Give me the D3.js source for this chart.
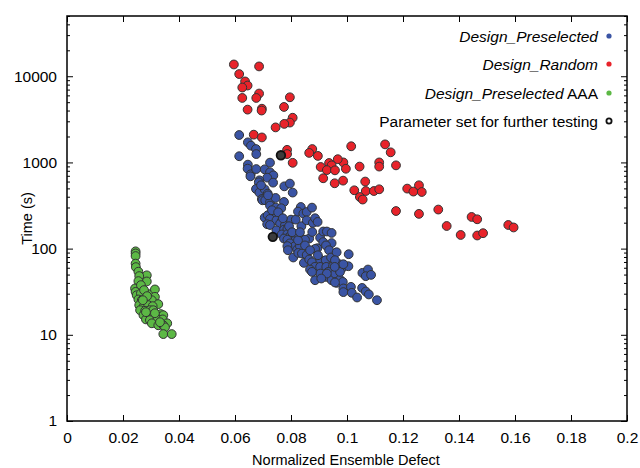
<!DOCTYPE html>
<html>
<head>
<meta charset="utf-8">
<script src="https://cdn.jsdelivr.net/npm/d3@7"></script>
<style>
  body { margin: 0; background: #fff; }
  svg { font-family: "Liberation Sans", Arial, sans-serif; }
</style>
</head>
<body>
<svg width="640" height="468"></svg>
<script>
// Normalized ensemble defect vs. design time

const xTicks = [0, 0.02, 0.04, 0.06, 0.08, 0.1, 0.12, 0.14, 0.16, 0.18, 0.2];
const yTicks = [1, 10, 100, 1000, 10000];

const preselected = [
  [0.0615,2080],[0.0646,1710],[0.0657,1565],[0.0675,1430],[0.0676,1250],[0.0615,1180],
  [0.0646,943],[0.0645,847],[0.0656,728],[0.0655,690],[0.0676,838],[0.0706,832],
  [0.0725,994],[0.0725,768],[0.0737,708],[0.0715,666],[0.0687,620],[0.0685,588],
  [0.0736,583],[0.0776,528],[0.0796,568],[0.0806,447],[0.0675,492],[0.0687,447],
  [0.0706,488],[0.0717,435],[0.0696,377],[0.0698,364],[0.0708,364],[0.0725,345],
  [0.0745,387],[0.0775,348],[0.0725,316],[0.0746,299],[0.0765,294],[0.0706,229],
  [0.0717,244],[0.0739,244],[0.0761,233],[0.0725,221],[0.0748,213],[0.0767,209],
  [0.0715,192],[0.0725,188],[0.0761,195],[0.0778,185],[0.0748,163],[0.0775,166],
  [0.0787,169],[0.0767,146],[0.0787,147],[0.0800,217],[0.0817,217],[0.0835,304],
  [0.0825,269],[0.0844,255],[0.0856,266],[0.0875,299],[0.0837,182],[0.0856,213],
  [0.0878,199],[0.0886,225],[0.0895,204],[0.0796,139],[0.0814,139],[0.0808,122],
  [0.0775,131],[0.0787,127],[0.0796,115],[0.0814,107],[0.0787,107],[0.0822,97.6],
  [0.0832,107],[0.0845,127],[0.0865,131],[0.0876,156],[0.0808,78.9],[0.0826,89.1],
  [0.0839,87.7],[0.0856,84.5],[0.0846,68.3],[0.0865,74.8],[0.0875,69.5],[0.0885,61.4],
  [0.0868,57.2],[0.0886,43.0],[0.0894,101],[0.0904,134],[0.0915,158],[0.0928,158],
  [0.0945,152],[0.0915,119],[0.0945,116],[0.0925,109],[0.0936,95.8],[0.0904,74.8],
  [0.0924,73.4],[0.0943,78.9],[0.0904,61.4],[0.0926,61.4],[0.0950,62.5],[0.0933,53.7],
  [0.0905,51.4],[0.0925,47.0],[0.0945,43.0],[0.0957,51.4],[0.0963,40.1],[0.0975,43.8],
  [0.0985,41.1],[0.0987,34.5],[0.0987,31.3],[0.0973,65.9],[0.0985,60.4],[0.0975,53.7],
  [0.1005,62.5],[0.1006,86.1],[0.0963,90.8],[0.0957,73.4],[0.1014,36.0],[0.1017,30.7],
  [0.1036,27.1],[0.1055,52.3],[0.1075,57.2],[0.1067,47.9],[0.1086,49.6],[0.1054,35.0],
  [0.1067,31.8],[0.1078,29.4],[0.1107,25.2],[0.0850,127],[0.0886,99.2],[0.0987,65.9],
  [0.0956,61.4],[0.0875,53.7],[0.0928,51.4],[0.0908,45.0],[0.0957,40.5],[0.0693,543],
  [0.0718,415],[0.0732,279],[0.0754,264],[0.0771,225],[0.0793,182],[0.0804,155],
  [0.0825,125],[0.0789,95.8],[0.0850,109],[0.0868,95.8],[0.0896,83.8],[0.0832,155]
];

const random = [
  [0.0596,13700],[0.0686,13000],[0.0615,10600],[0.0636,8700],[0.0645,7800],[0.0626,7400],
  [0.0686,6300],[0.0676,5600],[0.0626,5600],[0.0796,5700],[0.0775,4400],[0.0645,4100],
  [0.0696,4200],[0.0695,4000],[0.0806,3300],[0.0796,2900],[0.0776,2800],[0.0745,2550],
  [0.0667,2100],[0.0696,1950],[0.0786,1400],[0.0786,1250],[0.0876,1430],[0.0865,1290],
  [0.0896,1190],[0.0806,990],[0.1136,1620],[0.1156,1310],[0.1015,1540],[0.0987,1000],
  [0.0967,1090],[0.0936,985],[0.0945,925],[0.0906,885],[0.0928,815],[0.0957,810],
  [0.0996,845],[0.1045,895],[0.1115,1000],[0.1115,895],[0.1175,925],[0.0915,655],
  [0.0986,615],[0.0956,573],[0.1065,600],[0.1026,475],[0.1067,466],[0.1096,466],
  [0.1115,488],[0.1046,397],[0.1056,371],[0.1215,497],[0.1237,459],[0.1257,543],
  [0.1267,454],[0.1175,273],[0.1257,253],[0.1326,284],[0.1445,233],[0.1465,219],
  [0.1356,183],[0.1406,144],[0.1465,142],[0.1486,151],[0.1576,188],[0.1595,176]
];

const preselectedAAA = [
  [0.0245,93],[0.0245,88],[0.0245,82],[0.0245,67],[0.0246,61],[0.0255,54],
  [0.0285,49],[0.0258,48],[0.0285,41.6],[0.0255,42],[0.0243,34.5],[0.0245,31.5],
  [0.0249,28.8],[0.0264,30.2],[0.0255,25.7],[0.0267,25.2],[0.0296,29.6],[0.0314,33.6],
  [0.0314,27.6],[0.0285,25.2],[0.0303,25.2],[0.0326,22.7],[0.0258,22.1],[0.0273,21.1],
  [0.0290,22.1],[0.0306,21.5],[0.0261,19.3],[0.0279,19.0],[0.0296,19.3],[0.0308,19.3],
  [0.0273,16.9],[0.0290,16.9],[0.0308,16.5],[0.0335,17.4],[0.0326,16.2],[0.0344,16.9],
  [0.0282,15.1],[0.0296,14.8],[0.0323,15.1],[0.0342,15.1],[0.0358,13.6],[0.0303,13.6],
  [0.0326,12.9],[0.0344,12.9],[0.0350,12.2],[0.0344,10.2],[0.0374,10.2],[0.0264,37.7],
  [0.0275,33.0],[0.0286,28.1],[0.0271,25.2],[0.0314,17.8],[0.0282,18.3],[0.0332,14.0]
];

const furtherTesting = [[0.0764,1210],[0.0735,137]];

const series = [
  {label: 'Design_Preselected', suffix: '', data: preselected, color: '#3a54a4'},
  {label: 'Design_Random', suffix: '', data: random, color: '#e8232a'},
  {label: 'Design_Preselected', suffix: ' AAA', data: preselectedAAA, color: '#5cb845'}
];

const svg = d3.select('svg');
const plotL = 67, plotR = 627, plotT = 16, plotB = 421;

const x = d3.scaleLinear().domain([0, 0.2]).range([plotL, plotR]);
const y = d3.scaleLog().domain([1, 50000]).range([plotB, plotT]);

// minor log ticks
const minor = [];
for (let d = 1; d < 50000; d *= 10) {
  for (let k = 2; k <= 9; k++) {
    if (d * k <= 50000) minor.push(d * k);
  }
}

const axes = svg.append('g');

function styleTicks(g) {
  g.select('.domain').remove();
  g.selectAll('line').attr('stroke', '#000');
  g.selectAll('text').attr('font-size', 15.5).attr('fill', '#000').attr('font-family', null);
}

// bottom / top x ticks (inward)
axes.append('g')
  .attr('transform', 'translate(0,' + plotB + ')')
  .call(d3.axisBottom(x).tickValues(xTicks).tickSizeInner(-6).tickSizeOuter(0).tickPadding(11)
    .tickFormat(d => d === 0 ? '0' : String(+d.toFixed(2))))
  .call(styleTicks);

axes.append('g')
  .attr('transform', 'translate(0,' + plotT + ')')
  .call(d3.axisTop(x).tickValues(xTicks).tickSizeInner(-6).tickSizeOuter(0).tickFormat(''))
  .call(styleTicks);

// left / right y ticks
axes.append('g')
  .attr('transform', 'translate(' + plotL + ',0)')
  .call(d3.axisLeft(y).tickValues(yTicks).tickSizeInner(-6).tickSizeOuter(0).tickPadding(10)
    .tickFormat(d3.format('d')))
  .call(styleTicks);

axes.append('g')
  .attr('transform', 'translate(' + plotL + ',0)')
  .call(d3.axisLeft(y).tickValues(minor).tickSizeInner(-3).tickSizeOuter(0).tickFormat(''))
  .call(styleTicks);

axes.append('g')
  .attr('transform', 'translate(' + plotR + ',0)')
  .call(d3.axisRight(y).tickValues(yTicks).tickSizeInner(-6).tickSizeOuter(0).tickFormat(''))
  .call(styleTicks);

axes.append('g')
  .attr('transform', 'translate(' + plotR + ',0)')
  .call(d3.axisRight(y).tickValues(minor).tickSizeInner(-3).tickSizeOuter(0).tickFormat(''))
  .call(styleTicks);

// points
const pts = svg.append('g');
series.forEach(function(s) {
  pts.append('g').selectAll('circle')
    .data(s.data)
    .join('circle')
    .attr('cx', d => x(d[0]))
    .attr('cy', d => y(d[1]))
    .attr('r', 4.4)
    .attr('fill', s.color)
    .attr('stroke', '#333')
    .attr('stroke-width', 1);
});

pts.append('g').selectAll('circle')
  .data(furtherTesting)
  .join('circle')
  .attr('cx', d => x(d[0]))
  .attr('cy', d => y(d[1]))
  .attr('r', 4.3)
  .attr('fill', '#3c3c3c')
  .attr('stroke', '#111')
  .attr('stroke-width', 1.8);

// frame
svg.append('rect')
  .attr('x', plotL).attr('y', plotT)
  .attr('width', plotR - plotL).attr('height', plotB - plotT)
  .attr('fill', 'none').attr('stroke', '#000').attr('stroke-width', 1.5);

// axis titles
svg.append('text')
  .attr('x', (plotL + plotR) / 2 - 1).attr('y', 465)
  .attr('text-anchor', 'middle').attr('font-size', 14.5)
  .text('Normalized Ensemble Defect');

svg.append('text')
  .attr('transform', 'translate(32,' + ((plotT + plotB) / 2) + ') rotate(-90)')
  .attr('text-anchor', 'middle').attr('font-size', 14.5)
  .text('Time (s)');

// legend
const legend = svg.append('g');
const rowY = [36, 64, 93, 121];
series.forEach(function(s, i) {
  const t = legend.append('text')
    .attr('x', 598).attr('y', rowY[i] + 5.5)
    .attr('text-anchor', 'end').attr('font-size', 15.5);
  t.append('tspan').attr('font-style', 'italic').text(s.label);
  if (s.suffix) t.append('tspan').text(s.suffix);
  legend.append('circle')
    .attr('cx', 609).attr('cy', rowY[i])
    .attr('r', 2.6).attr('fill', s.color);
});
legend.append('text')
  .attr('x', 598).attr('y', rowY[3] + 5.5)
  .attr('text-anchor', 'end').attr('font-size', 15.5)
  .text('Parameter set for further testing');
legend.append('circle')
  .attr('cx', 609).attr('cy', rowY[3])
  .attr('r', 2.6).attr('fill', '#fff').attr('stroke', '#111').attr('stroke-width', 1.8);
</script>
</body>
</html>
